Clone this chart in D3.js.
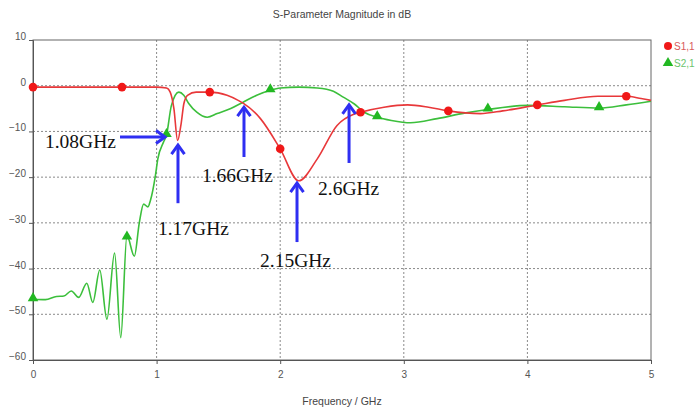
<!DOCTYPE html>
<html>
<head>
<meta charset="utf-8">
<script src="https://cdn.jsdelivr.net/npm/d3@7/dist/d3.min.js"></script>
<style>
  html, body { margin: 0; padding: 0; background: #fff; }
  svg { display: block; }
</style>
</head>
<body>
<svg id="chart" width="697" height="409"></svg>
<script>
// S-parameter sweep, frequency in GHz, magnitude in dB
const s11Freq = [0, 0.3, 0.72, 1.0, 1.08, 1.11, 1.14, 1.17, 1.2, 1.22, 1.25, 1.32, 1.43, 1.57, 1.66, 1.7, 1.84, 2.0, 2.15, 2.3, 2.46, 2.6, 2.65, 2.84, 3.03, 3.2, 3.36, 3.62, 3.8, 4.08, 4.3, 4.57, 4.8, 4.92, 5.0];
const s11dB   = [-0.3, -0.3, -0.3, -0.3, -0.5, -1.4, -5, -12, -8, -4, -2.1, -1.4, -1.4, -2.1, -3.2, -3.8, -7.2, -13.8, -20.8, -16, -8.7, -6.2, -5.8, -4.7, -4.2, -4.7, -5.5, -6.1, -5.5, -4.2, -3.2, -2.3, -2.3, -2.8, -3.2];

const s21Freq = [0, 0.1, 0.19, 0.25, 0.31, 0.37, 0.435, 0.484, 0.54, 0.598, 0.66, 0.71, 0.76, 0.82, 0.86, 0.895, 0.93, 0.95, 0.99, 1.01, 1.055, 1.08, 1.12, 1.18, 1.22, 1.26, 1.325, 1.41, 1.49, 1.6, 1.7, 1.81, 1.92, 2.0, 2.15, 2.3, 2.43, 2.51, 2.6, 2.68, 2.785, 2.9, 3.055, 3.27, 3.49, 3.68, 4.01, 4.3, 4.58, 4.8, 5.0];
const s21dB   = [-46.7, -46.8, -46.1, -46.0, -44.9, -46.3, -43.2, -47.4, -40.3, -51.1, -36.6, -55.1, -32.8, -37.3, -30, -25.9, -26.5, -25.1, -19.7, -16.0, -12.4, -10.8, -4.3, -1.4, -2.1, -3.9, -5.8, -6.9, -6.1, -5.0, -3.6, -2.1, -1.0, -0.5, -0.3, -0.5, -1.2, -2.5, -4.0, -5.8, -6.9, -7.6, -8.1, -7.2, -6.0, -5.2, -4.3, -4.6, -4.9, -4.2, -3.4];

// curve markers
const s11MarkFreq = [0, 0.72, 1.43, 2.0, 2.65, 3.36, 4.08, 4.8];
const s11MarkdB   = [-0.3, -0.3, -1.4, -13.8, -5.8, -5.5, -4.2, -2.3];
const s21MarkFreq = [0, 0.76, 1.08, 1.92, 2.785, 3.68, 4.58];
const s21MarkdB   = [-46.7, -33.2, -10.8, -1.0, -6.9, -5.2, -4.9];

// axis ticks
const xTicks = [0, 1, 2, 3, 4, 5];
const yTicks = [10, 0, -10, -20, -30, -40, -50, -60];

// annotated frequencies: arrow tip / tail and label anchor, in (GHz, dB)
const noteText   = ["1.08GHz", "1.17GHz", "1.66GHz", "2.15GHz", "2.6GHz"];
const noteTip    = [[1.068, -11.2], [1.173, -13.0], [1.707, -4.7], [2.136, -21.3], [2.557, -4.2]];
const noteTail   = [[0.704, -11.2], [1.173, -25.7], [1.707, -15.6], [2.136, -34.2], [2.557, -16.9]];
const noteLabel  = [[0.097, -13.6], [1.011, -32.7], [1.367, -21.1], [1.837, -39.7], [2.306, -23.9]];

const legendNames = ["S1,1", "S2,1"];

const W = 697, H = 409;
const margin = { left: 33, right: 46, top: 40, bottom: 49 };
const svg = d3.select("#chart");

const x = d3.scaleLinear().domain([0, 5]).range([margin.left, W - margin.right]);
const y = d3.scaleLinear().domain([-60, 10]).range([H - margin.bottom, margin.top]);

const RED = "#e8383a", GREEN = "#3cbf3c", BLUE = "#2f2ff2";
const axisFont = "'Liberation Sans', Arial, sans-serif";

// title
svg.append("text")
  .attr("x", (x(0) + x(5)) / 2).attr("y", 18)
  .attr("text-anchor", "middle")
  .attr("font-family", axisFont).attr("font-size", 10.5)
  .attr("fill", "#444")
  .text("S-Parameter Magnitude in dB");

// grid
const grid = svg.append("g").attr("stroke", "#8a8a8a").attr("stroke-dasharray", "2,2").attr("stroke-width", 1);
grid.selectAll(".gx").data(xTicks.slice(1, -1)).join("line")
  .attr("x1", d => x(d)).attr("x2", d => x(d))
  .attr("y1", y(10)).attr("y2", y(-60));
grid.selectAll(".gy").data(yTicks.slice(1, -1)).join("line")
  .attr("x1", x(0)).attr("x2", x(5))
  .attr("y1", d => y(d)).attr("y2", d => y(d));

// frame
svg.append("rect")
  .attr("x", x(0)).attr("y", y(10))
  .attr("width", x(5) - x(0)).attr("height", y(-60) - y(10))
  .attr("fill", "none").attr("stroke", "#666").attr("stroke-width", 1);

// axes
const xAxis = svg.append("g")
  .attr("transform", `translate(0,${y(-60)})`)
  .call(d3.axisBottom(x).tickValues(xTicks).tickFormat(d3.format("d")).tickSize(4).tickPadding(7));
const yAxis = svg.append("g")
  .attr("transform", `translate(${x(0)},0)`)
  .call(d3.axisLeft(y).tickValues(yTicks).tickFormat(d3.format("d")).tickSize(4).tickPadding(3));
[xAxis, yAxis].forEach(g => {
  g.select(".domain").attr("stroke", "#555");
  g.selectAll(".tick line").attr("stroke", "#555");
  g.selectAll(".tick text").attr("font-family", axisFont).attr("font-size", 10).attr("fill", "#555");
});
yAxis.selectAll(".tick text").attr("dy", "-0.05em");

// axis label
svg.append("text")
  .attr("x", (x(0) + x(5)) / 2).attr("y", 405)
  .attr("text-anchor", "middle")
  .attr("font-family", axisFont).attr("font-size", 10.5)
  .attr("fill", "#444")
  .text("Frequency / GHz");

// curves
const line = d3.line().x(d => x(d[0])).y(d => y(d[1])).curve(d3.curveMonotoneX);
const s21 = s21Freq.map((f, i) => [f, s21dB[i]]);
const s11 = s11Freq.map((f, i) => [f, s11dB[i]]);

svg.append("path").datum(s21).attr("d", line)
  .attr("fill", "none").attr("stroke", GREEN).attr("stroke-width", 1.6);
svg.append("path").datum(s11).attr("d", line)
  .attr("fill", "none").attr("stroke", RED).attr("stroke-width", 1.6);

// markers
const tri = d3.symbol().type(d3.symbolTriangle).size(48);
svg.append("g").selectAll("path")
  .data(s21MarkFreq.map((f, i) => [f, s21MarkdB[i]]))
  .join("path")
  .attr("d", tri)
  .attr("transform", d => `translate(${x(d[0])},${y(d[1]) - 1})`)
  .attr("fill", "#22b822");
svg.append("g").selectAll("circle")
  .data(s11MarkFreq.map((f, i) => [f, s11MarkdB[i]]))
  .join("circle")
  .attr("cx", d => x(d[0])).attr("cy", d => y(d[1]))
  .attr("r", 4.3)
  .attr("fill", "#f01818");

// legend
const lg = svg.append("g").attr("font-family", axisFont).attr("font-size", 10);
lg.append("circle").attr("cx", 668).attr("cy", 46).attr("r", 4).attr("fill", "#f01818");
lg.append("text").attr("x", 674).attr("y", 50).attr("fill", "#d85a5a").text(legendNames[0]);
lg.append("path").attr("d", tri).attr("transform", "translate(668,63)").attr("fill", "#22b822");
lg.append("text").attr("x", 674).attr("y", 67).attr("fill", "#6cc46c").text(legendNames[1]);

// arrows with frequency labels
const defs = svg.append("defs");
defs.append("marker")
  .attr("id", "head").attr("viewBox", "0 0 16 16")
  .attr("refX", 13).attr("refY", 8)
  .attr("markerWidth", 16).attr("markerHeight", 16)
  .attr("markerUnits", "userSpaceOnUse")
  .attr("orient", "auto")
  .append("path").attr("d", "M4,1.5 L13,8 L4,14.5")
  .attr("fill", "none").attr("stroke", BLUE).attr("stroke-width", 3)
  .attr("stroke-linejoin", "miter");

const notes = svg.append("g");
noteText.forEach((t, i) => {
  notes.append("line")
    .attr("x1", x(noteTail[i][0])).attr("y1", y(noteTail[i][1]))
    .attr("x2", x(noteTip[i][0])).attr("y2", y(noteTip[i][1]))
    .attr("stroke", BLUE).attr("stroke-width", 3)
    .attr("marker-end", "url(#head)");
  notes.append("text")
    .attr("x", x(noteLabel[i][0])).attr("y", y(noteLabel[i][1]))
    .attr("font-family", "'Liberation Serif', 'Times New Roman', serif")
    .attr("font-size", 19.5)
    .attr("fill", "#111")
    .text(t);
});
</script>
</body>
</html>
